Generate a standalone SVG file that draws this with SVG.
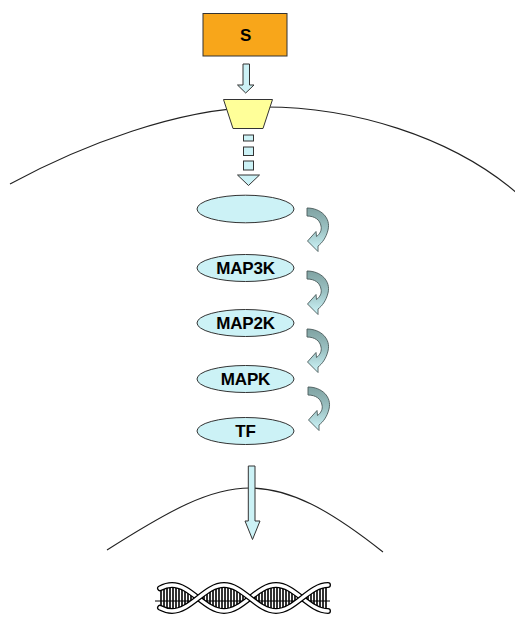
<svg xmlns="http://www.w3.org/2000/svg" width="515" height="619" viewBox="0 0 515 619">
  <defs>
    <style>
      .membrane { fill: none; stroke: #222; stroke-width: 1.1; }
      .pipe { fill: #CCF2F6; stroke: #333; stroke-width: 1; }
      .kinase { fill: #CCF2F6; stroke: #333; stroke-width: 1; }
      .label { font-family: "Liberation Sans", Arial, sans-serif; font-weight: bold; font-size: 17px; letter-spacing: -0.2px; fill: #000; text-anchor: middle; }
      .turn { fill: url(#turnFill); stroke: #4a5a5a; stroke-width: 0.9; stroke-linejoin: round; }
      .rungs { fill: none; stroke: #000; stroke-width: 1.6; }
      .strand-edge { fill: none; stroke: #000; stroke-width: 6; stroke-linecap: round; }
      .strand-core { fill: none; stroke: #fff; stroke-width: 3.4; stroke-linecap: round; }
    </style>
    <linearGradient id="turnFill" x1="0" y1="0" x2="0" y2="1">
      <stop offset="0" stop-color="#7FA2A2"/>
      <stop offset="0.5" stop-color="#9DC3C4"/>
      <stop offset="1" stop-color="#CFF6FA"/>
    </linearGradient>
    <!-- curved phosphorylation arrow, local origin at its top-left corner -->
    <path id="turnArrow" class="turn" d="M0,0 C14,0 24,10 21,22 C19,30 15,35 11,38 L11,43.5 L0.5,33 L9,23.5 L9.5,28.5 C13,26 15,22 14,18 C13,12 8,8 0,8 Z"/>
  </defs>

  <!-- cell membrane and nuclear envelope -->
  <path class="membrane" d="M10,184 C80,146 180,107 265,107 C350,107 450,135 518,194"/>
  <path class="membrane" d="M107,550 C170,510 210,488 250,488 C290,488 330,510 383,552"/>

  <!-- signal -->
  <g id="signal">
    <rect x="203" y="13.5" width="84" height="42.5" fill="#F8A61A" stroke="#333" stroke-width="1"/>
    <text class="label" x="245.5" y="41">S</text>
  </g>

  <!-- receptor -->
  <g id="receptor">
    <path d="M223.5,99.5 L272.5,99.5 L263,128.5 L233,128.5 Z" fill="#FFFF99" stroke="#333" stroke-width="1"/>
  </g>

  <!-- kinase cascade -->
  <g id="adaptor">
    <ellipse class="kinase" cx="245.5" cy="209" rx="48.5" ry="13.8"/>
  </g>
  <g id="map3k">
    <ellipse class="kinase" cx="245.5" cy="268" rx="48.5" ry="13.5"/>
    <text class="label" x="245.5" y="274">MAP3K</text>
  </g>
  <g id="map2k">
    <ellipse class="kinase" cx="245.5" cy="323" rx="48.5" ry="13.5"/>
    <text class="label" x="245.5" y="329">MAP2K</text>
  </g>
  <g id="mapk">
    <ellipse class="kinase" cx="245.5" cy="379" rx="48.5" ry="13.5"/>
    <text class="label" x="245.5" y="385">MAPK</text>
  </g>
  <g id="tf">
    <ellipse class="kinase" cx="245.5" cy="431" rx="48.5" ry="13.5"/>
    <text class="label" x="245.5" y="437">TF</text>
  </g>

  <!-- DNA double helix -->
  <g id="dna">
    <path class="rungs" d="M161,587.8V608.2 M164,586.5V609.5 M167,585.6V610.4 M170,585.1V610.9 M173,585V611 M176,585.4V610.6 M179,586.1V609.9 M182,587.3V608.7 M185,588.8V607.2 M188,590.6V605.4 M191,592.7V603.3
      M204,593.4V602.6 M207,591.3V604.7 M210,589.4V606.6 M213,587.8V608.2 M216,586.5V609.5 M219,585.6V610.4 M222,585.1V610.9 M225,585V611 M228,585.4V610.6 M231,586.1V609.9 M234,587.3V608.7 M237,588.8V607.2 M240,590.6V605.4 M243,592.7V603.3
      M256,593.4V602.6 M259,591.3V604.7 M262,589.4V606.6 M265,587.8V608.2 M268,586.5V609.5 M271,585.6V610.4 M274,585.1V610.9 M277,585V611 M280,585.4V610.6 M283,586.1V609.9 M286,587.3V608.7 M289,588.8V607.2 M292,590.6V605.4 M295,592.7V603.3
      M308,593.4V602.6 M311,591.3V604.7 M314,589.4V606.6 M317,587.8V608.2 M320,586.5V609.5 M323,585.6V610.4 M326,585.1V610.9"/>
    <line x1="155" y1="601" x2="330" y2="601" stroke="#000" stroke-width="1"/>
    <path class="strand-edge" d="M160,588.3 C164,586.2 168,585 172,585 C181.4,585 189.5,591.3 198,598 C206.5,604.7 214.6,611 224,611 C233.4,611 241.5,604.7 250,598 C258.5,591.3 266.6,585 276,585 C285.4,585 293.5,591.3 302,598 C310.5,604.7 318.6,611 328,611"/>
    <path class="strand-core" d="M160,588.3 C164,586.2 168,585 172,585 C181.4,585 189.5,591.3 198,598 C206.5,604.7 214.6,611 224,611 C233.4,611 241.5,604.7 250,598 C258.5,591.3 266.6,585 276,585 C285.4,585 293.5,591.3 302,598 C310.5,604.7 318.6,611 328,611"/>
    <path class="strand-edge" d="M160,607.7 C164,609.8 168,611 172,611 C181.4,611 189.5,604.7 198,598 C206.5,591.3 214.6,585 224,585 C233.4,585 241.5,591.3 250,598 C258.5,604.7 266.6,611 276,611 C285.4,611 293.5,604.7 302,598 C310.5,591.3 318.6,585 328,585"/>
    <path class="strand-core" d="M160,607.7 C164,609.8 168,611 172,611 C181.4,611 189.5,604.7 198,598 C206.5,591.3 214.6,585 224,585 C233.4,585 241.5,591.3 250,598 C258.5,604.7 266.6,611 276,611 C285.4,611 293.5,604.7 302,598 C310.5,591.3 318.6,585 328,585"/>
  </g>

  <!-- connectors -->
  <g id="connectors">
    <path class="pipe" d="M243,64 H249.5 V85 H254 L245.7,93 L237.5,85 H243 Z"/>
    <rect class="pipe" x="243.5" y="135" width="10" height="6"/>
    <rect class="pipe" x="243.5" y="147" width="10" height="8.5"/>
    <rect class="pipe" x="243.5" y="161" width="10" height="9"/>
    <path class="pipe" d="M237.5,175 L259.5,175 L248.5,185.5 Z"/>
    <use href="#turnArrow" x="307" y="208"/>
    <use href="#turnArrow" x="307" y="271"/>
    <use href="#turnArrow" x="307" y="329"/>
    <use href="#turnArrow" x="308" y="387"/>
    <path class="pipe" d="M248.3,466 H255 V521 H260 L252.5,539.5 L245,521 H248.3 Z"/>
  </g>
</svg>
